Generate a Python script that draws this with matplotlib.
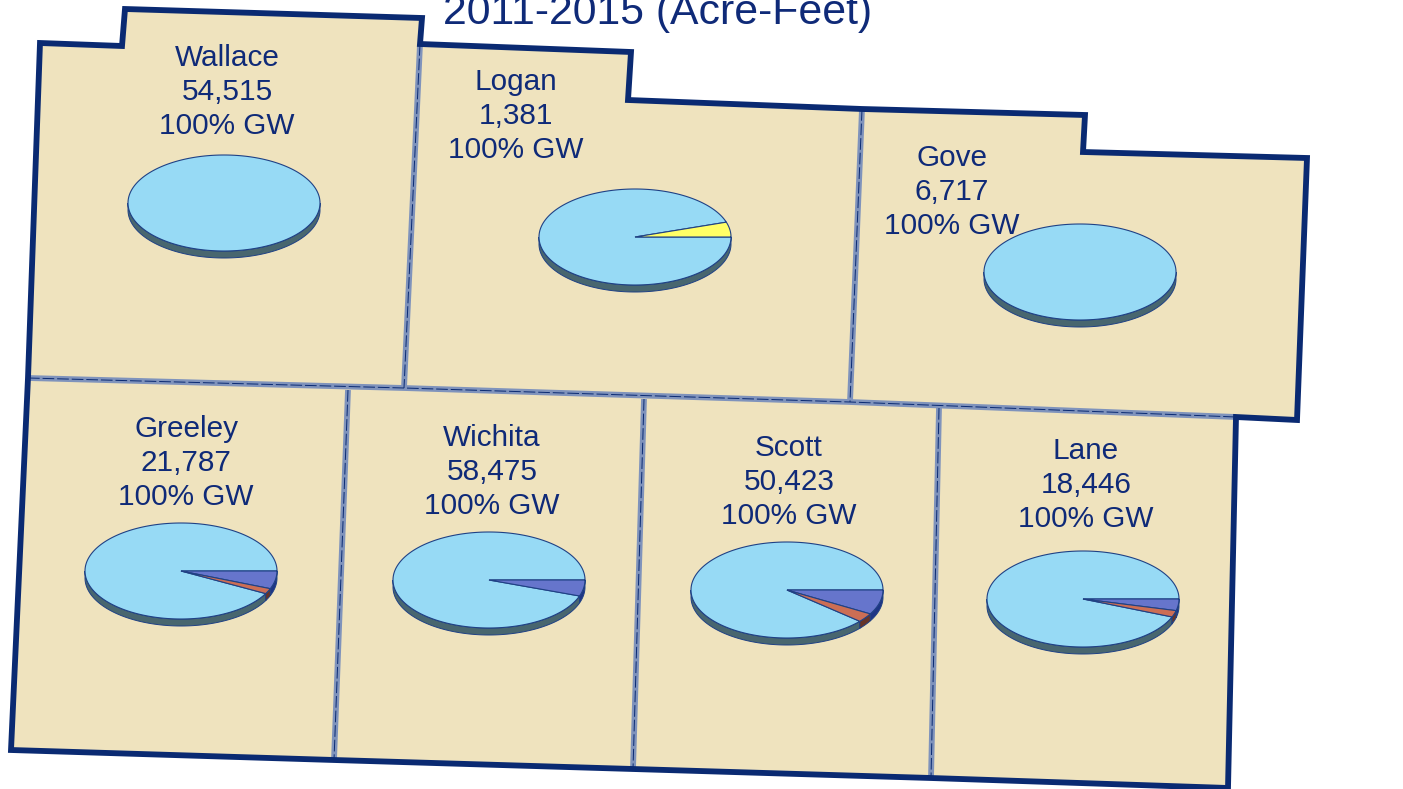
# -*- coding: utf-8 -*-
import numpy as np
import matplotlib
matplotlib.use("Agg")
import matplotlib.pyplot as plt

plt.rcParams["font.family"] = ["Liberation Sans", "DejaVu Sans"]

# data
counties = ["Wallace", "Logan", "Gove", "Greeley", "Wichita", "Scott", "Lane"]
acre_feet = [54515, 1381, 6717, 21787, 58475, 50423, 18446]
gw_label = ["100% GW"] * 7
yellow_pct = [0, 5.0, 0, 0, 0, 0, 0]
blue_pct = [0, 0, 0, 6.0, 5.4, 8.3, 3.9]
red_pct = [0, 0, 0, 1.8, 0, 3.0, 2.2]

# layout, reference pixels
fig_w, fig_h = 1403, 789
label_xy = [(227, 58), (516, 82), (952, 158), (186, 429), (492, 438), (789, 448), (1086, 451)]
pie_xy = [(224, 203), (635, 237), (1080, 272), (181, 571), (489, 580), (787, 590), (1083, 599)]
pie_a, pie_b, pie_depth = 96, 48, 7
line_gap = 34

outline = [(40, 43), (122, 46), (125, 9), (422, 18), (420, 44), (631, 52), (628, 100),
           (862, 109), (1085, 115), (1083, 152), (1307, 158), (1297, 420), (1236, 417),
           (1228, 788), (931, 778), (633, 769), (334, 760), (11, 750), (28, 378)]
inner_lines = [
    [(28, 378), (404, 388), (850, 402), (1236, 417)],
    [(420, 44), (404, 388)],
    [(862, 109), (850, 402)],
    [(348, 390), (334, 760)],
    [(644, 399), (633, 769)],
    [(939, 408), (931, 778)],
]

# colours
land = "#EFE3BE"
navy = "#0A2A72"
border_light = "#7F93BC"
text_col = "#0F2A78"
top_colors = {"main": "#97DAF5", "yellow": "#FFFF66", "blue": "#6675CC", "red": "#CC6E55"}
rim_colors = {"main": "#48666F", "yellow": "#808033", "blue": "#1E3585", "red": "#663428"}
edge_col = "#1F4185"

fig = plt.figure(figsize=(fig_w / 100, fig_h / 100), dpi=100, facecolor="white")
ax = fig.add_axes([0, 0, 1, 1])
ax.set_xlim(0, fig_w)
ax.set_ylim(fig_h, 0)
ax.axis("off")


def arc(cx, cy, t0, t1, dy=0):
    # angles in degrees, clockwise on screen from 3 o'clock
    t = np.radians(np.linspace(t0, t1, max(int(abs(t1 - t0)) * 2, 2)))
    return cx + pie_a * np.cos(t), cy + dy + pie_b * np.sin(t)


def draw_rim(cx, cy, t0, t1, key):
    # only the part of the slice on the front half has a visible side
    lo, hi = max(t0, 0), min(t1, 180)
    if hi <= lo:
        return
    x, y = arc(cx, cy, lo, hi)
    xs = np.concatenate([x, x[::-1]])
    ys = np.concatenate([y, y[::-1] + pie_depth])
    ax.fill(xs, ys, facecolor=rim_colors[key], edgecolor=edge_col, lw=0.7, zorder=4)


def draw_top(cx, cy, t0, t1, key):
    x, y = arc(cx, cy, t0, t1)
    if t1 - t0 >= 360:
        xs, ys = x, y  # whole pie, no radius line
    else:
        xs = np.concatenate([[cx], x, [cx]])
        ys = np.concatenate([[cy], y, [cy]])
    ax.fill(xs, ys, facecolor=top_colors[key], edgecolor=edge_col, lw=0.8, zorder=5)


# county fill and borders
ox, oy = zip(*outline)
ax.fill(ox, oy, facecolor=land, edgecolor="none", zorder=1)
for seg in inner_lines:
    sx, sy = zip(*seg)
    ax.plot(sx, sy, color=border_light, lw=4.2, solid_capstyle="butt", zorder=2)
    ax.plot(sx, sy, color=navy, lw=0.7, dashes=(12, 3), zorder=2.1)
ax.fill(ox, oy, facecolor="none", edgecolor=navy, lw=4.2, joinstyle="miter", zorder=3)

# pies
for i, (cx, cy) in enumerate(pie_xy):
    b_end = blue_pct[i] * 3.6
    r_end = b_end + red_pct[i] * 3.6
    y_start = -yellow_pct[i] * 3.6
    main_t0, main_t1 = r_end, 360 + y_start
    draw_rim(cx, cy, main_t0, main_t1, "main")
    if blue_pct[i]:
        draw_rim(cx, cy, 0, b_end, "blue")
    if red_pct[i]:
        draw_rim(cx, cy, b_end, r_end, "red")
    draw_top(cx, cy, main_t0, main_t1, "main")
    if blue_pct[i]:
        draw_top(cx, cy, 0, b_end, "blue")
    if red_pct[i]:
        draw_top(cx, cy, b_end, r_end, "red")
    if yellow_pct[i]:
        draw_top(cx, cy, y_start, 0, "yellow")

# labels
for i, (lx, ly) in enumerate(label_xy):
    lines = [counties[i], f"{acre_feet[i]:,}", gw_label[i]]
    for k, s in enumerate(lines):
        ax.text(lx, ly + k * line_gap, s, ha="center", va="center",
                fontsize=21.4, color=text_col, zorder=6)

ax.text(658, 13, "2011-2015 (Acre-Feet)", ha="center", va="center",
        fontsize=30.8, color=text_col, zorder=6)

fig.savefig("out.png", dpi=100, facecolor="white")
